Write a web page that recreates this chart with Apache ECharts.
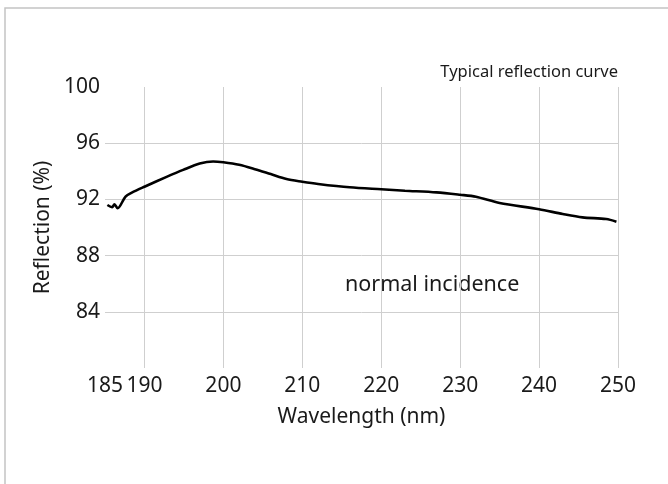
<!DOCTYPE html>
<html>
<head>
<meta charset="utf-8">
<script src="https://cdn.jsdelivr.net/npm/echarts@6/dist/echarts.min.js"></script>
<style>
  html, body { margin: 0; padding: 0; background: #fff; }
  #chart { width: 668px; height: 484px; }
</style>
</head>
<body>
<div id="chart"></div>
<script>
// 数据：读自参考图
const wavelength = [185.3, 185.9, 186.2, 186.6, 187.6, 188.4, 190, 192.8, 194.9, 197, 198.7, 200, 202, 204, 206, 208, 210, 212, 216, 220, 223, 227, 230, 232, 235, 240, 243, 245.5, 248.5, 249.8];
const reflection = [91.6, 91.44, 91.65, 91.37, 92.2, 92.48, 92.9, 93.6, 94.1, 94.55, 94.7, 94.64, 94.46, 94.15, 93.8, 93.45, 93.26, 93.1, 92.86, 92.72, 92.62, 92.5, 92.33, 92.19, 91.75, 91.3, 90.96, 90.72, 90.6, 90.41];
const xTickLabels = [185, 190, 200, 210, 220, 230, 240, 250];
const xGridValues = [190, 200, 210, 220, 230, 240, 250];
const yTickLabels = [84, 88, 92, 96, 100];
const yGridValues = [84, 88, 92, 96];

const FONT = "Noto Sans";
const TEXT = "#1a1a1a";
const GRID = "#cfcfcf";

function initChart() {
  var dom = document.getElementById("chart");
  var myChart = echarts.init(dom, null, { renderer: "canvas" });

  const points = wavelength.map((w, i) => [w, reflection[i]]);

  const option = {
    backgroundColor: "#fff",
    animation: false,
    title: {
      text: "Typical reflection curve",
      right: 50,
      top: 64,
      padding: 0,
      textStyle: { fontFamily: FONT, fontSize: 16.5, fontWeight: "normal", color: TEXT },
    },
    grid: { left: 105, right: 50, top: 87, bottom: 116 },
    xAxis: {
      type: "value",
      min: 185,
      max: 250,
      name: "Wavelength (nm)",
      nameLocation: "middle",
      nameGap: 39,
      nameTextStyle: { fontFamily: FONT, fontSize: 21, color: TEXT },
      axisLine: { show: false },
      axisTick: { show: false, customValues: xGridValues },
      axisLabel: {
        customValues: xTickLabels,
        margin: 8,
        fontFamily: FONT,
        fontSize: 21,
        color: TEXT,
      },
      splitLine: { show: true, lineStyle: { color: GRID, width: 1 } },
    },
    yAxis: {
      type: "value",
      min: 80,
      max: 100,
      interval: 4,
      name: "Reflection (%)",
      nameLocation: "middle",
      nameGap: 50,
      nameTextStyle: { fontFamily: FONT, fontSize: 21, color: TEXT },
      axisLine: { show: false },
      axisTick: { show: false, customValues: yGridValues },
      axisLabel: {
        customValues: yTickLabels,
        margin: 5,
        fontFamily: FONT,
        fontSize: 21,
        color: TEXT,
      },
      splitLine: { show: true, lineStyle: { color: GRID, width: 1 } },
    },
    graphic: [
      {
        // 外框
        type: "rect",
        silent: true,
        shape: { x: 5, y: 8, width: 700, height: 500 },
        style: { fill: "none", stroke: "#c4c4c4", lineWidth: 1.5 },
      },
      {
        type: "text",
        left: 345,
        top: 274,
        style: { text: "normal incidence", fontFamily: FONT, fontSize: 21.5, fill: TEXT },
      },
    ],
    series: [
      {
        type: "line",
        data: points,
        showSymbol: false,
        smooth: 0.3,
        lineStyle: { color: "#000", width: 2.6 },
      },
    ],
  };

  myChart.setOption(option);
}

document.addEventListener("DOMContentLoaded", initChart);
</script>
</body>
</html>
